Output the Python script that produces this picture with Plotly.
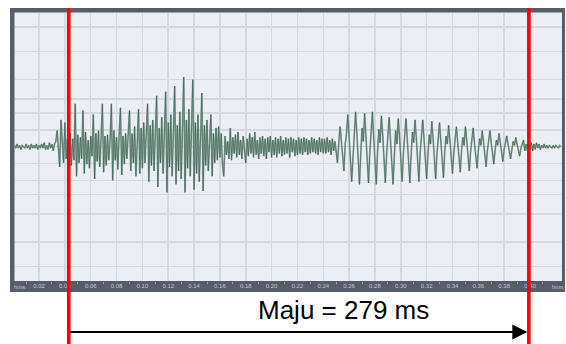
import numpy as np
import plotly.graph_objects as go

# ---------------- data ----------------
sample_step_s = 0.001  # one reading per millisecond

# amplitude readings (percent of full scale), one per ms, starting at t = 0
silence_start = [0, 1, -1, 2, -1, 1, -2, 1, 0, -1,
                 2, -1, 1, -2, 2, -1, 1, -1, 2, -2,
                 1, -1, 2, -1, 3, -2, 1, -2, 3, -1,
                 2, -3, 2]
onset = [4, 12, -5, -15, 20, 3, -12, 18, -9, 6]
vowel1_a = [-8, 10, -14, 6, -10, 32, -22, 9, -12, 7,
            -9, 27, -20, 11, -13, 5, -16, 8, -7, 24,
            -24, 10, -11, 12, -15, 6, 32, -19, 8, -14,
            9, -10, 5, 32, -25, 12, -10, 7, -17, 9,
            29, -21, 8, -13, 10, -9, 6, 27]
vowel1_b = [-18, 10, -12, 15, -22, 12, 28, -20, 14, -16,
            18, -12, 9, 32, -26, 16, -14, 20, -18, 10,
            38, -30, 14, -12, 22, -20, 12, 41, -34, 18,
            -15, 24, -22, 10, 45, -28, 16, -18, 26, -24,
            12, 52, -34, 20, -16, 28, -22, 14, 50, -32,
            18, -20, 24, -26, 12, 40, -33, 16, -14, 20,
            -18, 8, 24, -22, 10, -12, 14, -10, 15, -8]
consonant = [10, -14, -22, 8, -6, 4, -9, 14, -10, 7,
             -5, 9, -8, 11, -6, 5, -9, 8, -4, -12,
             6, -7, 10, -5, 7, -8, 11, -6, 5, -9,
             7, -5, 8, -7, 6, -9, 7, -4, 8, -8,
             5, -6, 7, -8, 6, -5, 8, -7, 5, -6,
             7, -5, 6, -8, 7, -4, 6, -7, 5, -6,
             7, -5, 6, -6, 7, -4, 6, -6, 5, -5,
             7, -4, 6, -5, 5, -6, 7, -4, 6, -5,
             6, -5, 7, -4, 5, -6, 6, -3, 4, -7,
             -12, 3]
vowel2 = [15, 4, -6, -18, 2, 10,
          24, 6, -12, -26, -8, 12,
          26, 10, -14, -28, -6, 14, 4,
          25, 8, -15, -27, -5, 12,
          26, 7, -13, -28, -4, 13, 3,
          23, 9, -16, -27, -6, 11,
          22, 5, -14, -28, -7, 12, 2,
          21, 8, -15, -26, -5, 10,
          21, 6, -13, -27, -6, 11, 3,
          20, 7, -14, -26, -4, 10,
          20, 5, -12, -24, -6, 9, 2,
          19, 6, -13, -24, -5, 10,
          18, 4, -11, -23, -4, 8, 2,
          16, 5, -12, -20, -5, 8,
          15, 4, -10, -19, -3, 7, 1,
          15, 5, -10, -18, -4, 7,
          14, 3, -9, -16, -3, 6, 1,
          12, 4, -8, -15, -3, 6,
          12, 3, -7, -13, -2, 5, 1,
          10, 3, -6, -11, -2, 4,
          8, 2, -5, -9, -2, 4, 1,
          7, 2, -4, -7, -1, 3,
          5, -3]
silence_end = [2, -3, 3, -2, 3, -3, 2, -2, 3, -1,
               2, -2, 1, -1, 2, -1, 1, -1, 1, 0,
               -1, 1, -1, 1, 0, -1, 1, 0]

wave_pct = silence_start + onset + vowel1_a + vowel1_b + consonant + vowel2 + silence_end

# time axis labels
tick_vals = [0.02, 0.04, 0.06, 0.08, 0.10, 0.12, 0.14, 0.16, 0.18, 0.20,
             0.22, 0.24, 0.26, 0.28, 0.30, 0.32, 0.34, 0.36, 0.38, 0.40]
tick_text = ["0.02", "0.04", "0.06", "0.08", "0.10", "0.12", "0.14", "0.16", "0.18", "0.20",
             "0.22", "0.24", "0.26", "0.28", "0.30", "0.32", "0.34", "0.36", "0.38", "0.40"]
minor_tick_vals = [0.01, 0.03, 0.05, 0.07, 0.09, 0.11, 0.13, 0.15, 0.17, 0.19,
                   0.21, 0.23, 0.25, 0.27, 0.29, 0.31, 0.33, 0.35, 0.37, 0.39, 0.41]
grid_db = [-1, -3, -6, -9, -12, -18]

# segment markers (s) and label
marker_start_s = 0.0430
marker_end_s = 0.3991
duration_label = "Maju = 279 ms"

# ---------------- figure ----------------
t = np.arange(len(wave_pct)) * sample_step_s
amp = np.array(wave_pct) / 100.0
levels = [10 ** (d / 20) for d in grid_db]
y_grid = sorted([-v for v in levels] + levels)

W, H = 566, 344
fig = go.Figure()
fig.add_trace(go.Scatter(x=t, y=amp, mode="lines",
                         line=dict(color="#8ea89c", width=1.7), hoverinfo="skip"))
fig.add_trace(go.Scatter(x=t, y=amp, mode="lines", opacity=0.85,
                         line=dict(color="#234a3a", width=0.55), hoverinfo="skip"))

frame_col = "#575d6b"
fig.add_shape(type="rect", xref="paper", yref="paper",
              x0=10 / W, x1=565 / W, y0=1 - 292 / H, y1=1 - 8 / H,
              fillcolor=frame_col, line_width=0, layer="below")
fig.add_shape(type="rect", xref="paper", yref="paper",
              x0=14.5 / W, x1=562 / W, y0=1 - 281 / H, y1=1 - 12.5 / H,
              fillcolor="#eceef6", line_width=0, layer="below")

for ts in (marker_start_s, marker_end_s):
    fig.add_shape(type="line", xref="x", yref="paper", x0=ts, x1=ts,
                  y0=0, y1=1 - 8 / H, line=dict(color="#ff0000", width=3.6), layer="above")

fig.add_annotation(x=marker_end_s - 0.0012, y=1 - 332 / H, xref="x", yref="paper",
                   ax=marker_start_s, ay=0, axref="x", ayref="pixel",
                   showarrow=True, arrowhead=2, arrowsize=1.5, arrowwidth=2,
                   arrowcolor="#000000", text="", standoff=0)
fig.add_annotation(x=343 / W, y=1 - 309.5 / H, xref="paper", yref="paper",
                   xanchor="center", yanchor="middle",
                   text=duration_label, showarrow=False,
                   font=dict(family="Liberation Sans, Arial, sans-serif", size=26, color="#000000"))
for xp in (19, 557):
    fig.add_annotation(x=xp / W, y=1 - 286.5 / H, xref="paper", yref="paper", text="hms",
                       xanchor="center", yanchor="middle", showarrow=False,
                       font=dict(family="Liberation Sans, Arial", size=6, color="#c4c8d0"))

fig.update_layout(
    width=W, height=H, margin=dict(l=0, r=0, t=0, b=0),
    paper_bgcolor="#ffffff", plot_bgcolor="rgba(0,0,0,0)", showlegend=False,
    xaxis=dict(domain=[14.5 / W, 562 / W], range=[(14.5 - 13.2) / 1292, (562 - 13.2) / 1292],
               tickvals=tick_vals, ticktext=tick_text, showgrid=True, gridcolor="#d5d8e0", gridwidth=1.5,
               ticks="", showline=False, zeroline=False,
               tickfont=dict(family="Liberation Sans, Arial", size=6, color="#c4c8d0"),
               minor=dict(tickvals=minor_tick_vals, ticks="outside", ticklen=2, tickcolor="#9ca2ae",
                          showgrid=False)),
    yaxis=dict(domain=[1 - 281 / H, 1 - 12.5 / H], range=[-1, 1], tickvals=y_grid,
               showticklabels=False, showgrid=True, gridcolor="#d5d8e0", gridwidth=1.5,
               zeroline=True, zerolinecolor="#e2c2c8", zerolinewidth=1, ticks="", showline=False),
)

fig.write_html("out.html", config={"displayModeBar": False, "staticPlot": True},
               post_script="document.body.style.margin='0';document.body.style.overflow='hidden';")
